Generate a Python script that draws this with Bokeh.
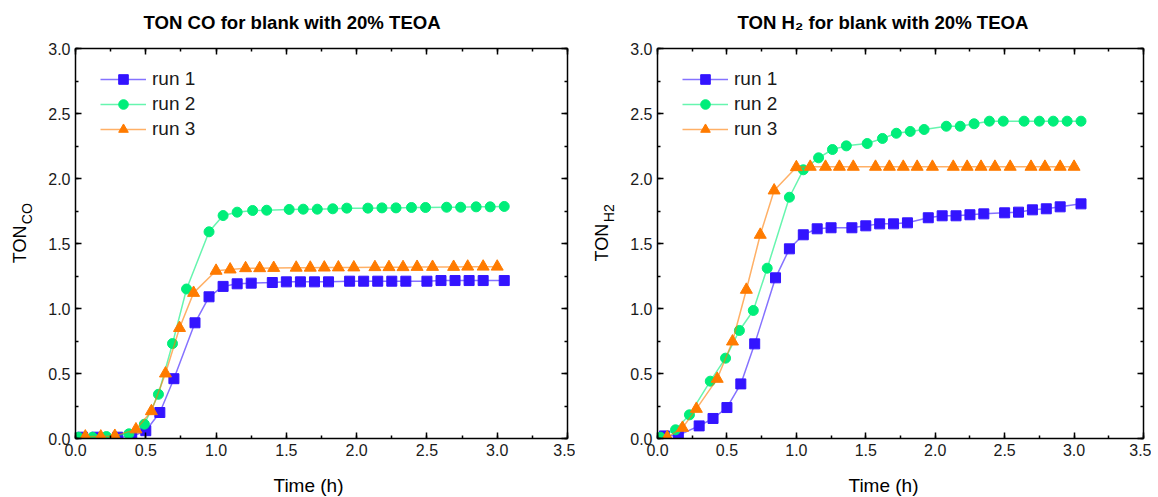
import math
from bokeh.plotting import figure
from bokeh.models import (LinearAxis, SingleIntervalTicker, Range1d,
                          NumeralTickFormatter, CustomJSTickFormatter)
from bokeh.layouts import row, column
from bokeh.embed import file_html
from bokeh.resources import INLINE
from bokeh.core.properties import value

FONT = "Liberation Sans"
TOTAL_W = 1151
TOP_H = 40          # title strip
BOT_H = 26          # x-label strip
MAIN_H = 497 - TOP_H - BOT_H

# ---------------- data ----------------
t_run1 = [0.05, 0.15, 0.3, 0.4, 0.5, 0.6, 0.7, 0.85, 0.95, 1.05, 1.15, 1.25, 1.4, 1.5,
          1.6, 1.7, 1.8, 1.95, 2.05, 2.15, 2.25, 2.35, 2.5, 2.6, 2.7, 2.8, 2.9, 3.05]
t_run2_co = [0.02, 0.12, 0.22, 0.38, 0.49, 0.59, 0.69, 0.79, 0.95, 1.05, 1.15, 1.26, 1.36, 1.52,
             1.62, 1.72, 1.83, 1.93, 2.08, 2.18, 2.28, 2.39, 2.49, 2.64, 2.74, 2.85, 2.95, 3.05]
t_run2_h2 = [0.02, 0.13, 0.23, 0.38, 0.49, 0.59, 0.69, 0.79, 0.95, 1.05, 1.16, 1.26, 1.36, 1.51,
             1.62, 1.72, 1.82, 1.92, 2.08, 2.18, 2.28, 2.39, 2.49, 2.64, 2.75, 2.85, 2.95, 3.05]
t_run3 = [0.07, 0.18, 0.28, 0.43, 0.54, 0.64, 0.74, 0.84, 1.0, 1.1, 1.21, 1.31, 1.41, 1.57,
          1.67, 1.77, 1.87, 1.98, 2.13, 2.23, 2.33, 2.43, 2.54, 2.69, 2.79, 2.9, 3.0]

co_run1 = [0.01, 0.01, 0.01, 0.015, 0.06, 0.20, 0.46, 0.89, 1.09, 1.17, 1.19, 1.195, 1.20, 1.205,
           1.205, 1.205, 1.205, 1.21, 1.21, 1.21, 1.21, 1.21, 1.21, 1.215, 1.215, 1.215, 1.215, 1.215]
co_run2 = [0.01, 0.01, 0.015, 0.036, 0.11, 0.34, 0.73, 1.15, 1.59, 1.715, 1.741, 1.754, 1.756, 1.762,
           1.764, 1.764, 1.767, 1.772, 1.772, 1.774, 1.774, 1.777, 1.777, 1.779, 1.779, 1.782, 1.782, 1.785]
co_run3 = [0.015, 0.015, 0.02, 0.07, 0.21, 0.50, 0.85, 1.12, 1.29, 1.30, 1.31, 1.31, 1.312, 1.314,
           1.314, 1.315, 1.316, 1.316, 1.318, 1.318, 1.318, 1.32, 1.32, 1.32, 1.322, 1.322, 1.322]

h2_run1 = [0.02, 0.025, 0.097, 0.154, 0.238, 0.42, 0.728, 1.236, 1.459, 1.567, 1.613, 1.621, 1.621, 1.636,
           1.651, 1.651, 1.659, 1.698, 1.713, 1.713, 1.721, 1.728, 1.736, 1.741, 1.759, 1.767, 1.782, 1.805]
h2_run2 = [0.01, 0.067, 0.182, 0.441, 0.618, 0.831, 0.985, 1.31, 1.856, 2.067, 2.159, 2.223, 2.251, 2.269,
           2.308, 2.348, 2.362, 2.377, 2.402, 2.402, 2.421, 2.441, 2.441, 2.441, 2.441, 2.441, 2.441, 2.441]
h2_run3 = [0.01, 0.082, 0.228, 0.459, 0.746, 1.144, 1.567, 1.908, 2.087, 2.09, 2.09, 2.09, 2.09, 2.09,
           2.09, 2.09, 2.09, 2.09, 2.09, 2.09, 2.09, 2.09, 2.09, 2.09, 2.09, 2.09, 2.09]

series_labels = ["run 1", "run 2", "run 3"]
titles = ["TON CO for blank with 20% TEOA", "TON H\u2082 for blank with 20% TEOA"]
ylabel_main = "TON"
ylabel_subs = ["CO", "H2"]
xlabel = "Time (h)"

colors = ["#3314FF", "#00EE7A", "#FF7B00"]
markers = ["square", "circle", "triangle"]
marker_sizes = [10, 10, 12]


def blank_fig(width, height):
    f = figure(width=width, height=height, x_range=Range1d(0, width), y_range=Range1d(0, height),
               output_backend="svg", toolbar_location=None, x_axis_type=None, y_axis_type=None,
               min_border_left=0, min_border_right=0, min_border_top=0, min_border_bottom=0)
    f.grid.visible = False
    f.outline_line_color = None
    return f


def style_axis(ax, show_labels=True):
    ax.ticker = SingleIntervalTicker(interval=0.5, num_minor_ticks=2)
    ax.axis_line_color = "black"
    ax.axis_line_width = 1.5
    ax.major_tick_in = 6
    ax.major_tick_out = 0
    ax.minor_tick_in = 3
    ax.minor_tick_out = 0
    ax.major_tick_line_color = "black"
    ax.minor_tick_line_color = "black"
    ax.major_tick_line_width = 1.5
    ax.minor_tick_line_width = 1.5
    ax.major_label_text_font = FONT
    ax.major_label_text_color = "#1a1a1a"
    if show_labels:
        ax.formatter = NumeralTickFormatter(format="0.0")
        ax.major_label_text_font_size = "16px"
        ax.major_label_standoff = 5
    else:
        ax.formatter = CustomJSTickFormatter(code="return ''")
        ax.major_label_text_font_size = "1px"
        ax.major_label_standoff = 0


def make_label_fig(width, tx, ty, sx, sy, sub):
    # positions given in page pixels from the top; convert to this strip's y (from bottom)
    f = blank_fig(width, MAIN_H)
    base = TOP_H + MAIN_H
    f.text(x=[tx], y=[base - ty], text=[ylabel_main], angle=math.pi / 2, text_align="center",
           text_baseline="middle", text_font=value(FONT), text_font_size="18px",
           text_color="black")
    f.text(x=[sx], y=[base - sy], text=[sub], angle=math.pi / 2, text_align="center",
           text_baseline="middle", text_font=value(FONT), text_font_size="14px",
           text_color="black")
    return f


def make_fig(width, left_border, data):
    p = figure(width=width, height=MAIN_H, x_range=Range1d(0, 3.5), y_range=Range1d(0, 3.0),
               output_backend="svg", toolbar_location=None,
               min_border_left=left_border, min_border_right=8,
               min_border_top=48 - TOP_H, min_border_bottom=MAIN_H - (48 - TOP_H) - 390)
    p.grid.visible = False
    p.outline_line_color = None
    style_axis(p.xaxis[0])
    style_axis(p.yaxis[0])
    top = LinearAxis()
    style_axis(top, False)
    p.add_layout(top, "above")
    right = LinearAxis()
    style_axis(right, False)
    p.add_layout(right, "right")

    for (t, y), lab, c, m, s in zip(data, series_labels, colors, markers, marker_sizes):
        p.line(t, y, line_color=c, line_alpha=0.6, line_width=1.5, legend_label=lab)
        p.scatter(t, y, marker=m, size=s, fill_color=c, line_color=c, legend_label=lab)

    lg = p.legend[0]
    lg.location = (25, 297)
    lg.border_line_color = None
    lg.background_fill_alpha = 0
    lg.padding = 0
    lg.margin = 0
    lg.spacing = 1
    lg.glyph_width = 46
    lg.glyph_height = 24
    lg.label_height = 24
    lg.label_standoff = 6
    lg.label_text_font = FONT
    lg.label_text_font_size = "19px"
    lg.label_text_color = "#1a1a1a"
    return p


# title strip
tfig = blank_fig(TOTAL_W, TOP_H)
tfig.text(x=[143, 737], y=[TOP_H - 22, TOP_H - 22], text=titles, text_align="left",
          text_baseline="middle", text_font=value(FONT), text_font_size="18.6px",
          text_font_style="bold", text_color="black")

# x-label strip (centre placed at page y = 485)
bfig = blank_fig(TOTAL_W, BOT_H)
bfig.text(x=[308, 883], y=[497 - 485, 497 - 485], text=[xlabel, xlabel], text_align="center",
          text_baseline="middle", text_font=value(FONT), text_font_size="19px",
          text_color="black")

lab1 = make_label_fig(36, 19.5, 256.5, 26, 222.5, ylabel_subs[0])
p1 = make_fig(539, 39, [(t_run1, co_run1), (t_run2_co, co_run2), (t_run3, co_run3)])
lab2 = make_label_fig(40, 26.5, 254.5, 33, 222, ylabel_subs[1])
p2 = make_fig(536, 42, [(t_run1, h2_run1), (t_run2_h2, h2_run2), (t_run3, h2_run3)])

layout = column(tfig, row(lab1, p1, lab2, p2), bfig)
open("out.html", "w").write(file_html(layout, INLINE))
